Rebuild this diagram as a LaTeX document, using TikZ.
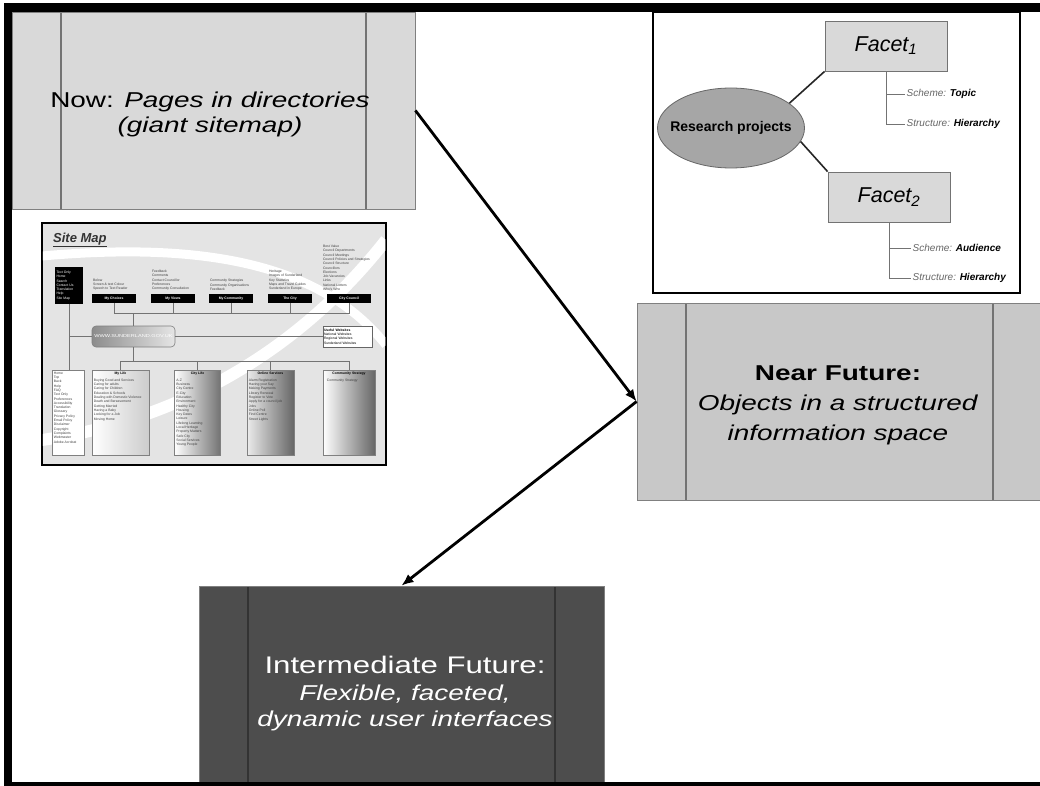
\documentclass[tikz,border=0pt]{standalone}
\usepackage{fontspec}
\setmainfont{Liberation Sans}
\newfontfamily\widesans[FakeStretch=1.3]{Liberation Sans}
\usepackage{xcolor}
\usepackage{tikz}
\usetikzlibrary{shapes.geometric}
\usetikzlibrary{arrows.meta}
\tikzset{>={Latex[length=12pt,width=10pt]}}
\definecolor{nowgray}{HTML}{D9D9D9}
\definecolor{neargray}{HTML}{C8C8C8}
\definecolor{intergray}{HTML}{4D4D4D}
\definecolor{mapback}{HTML}{E4E4E4}
\newcommand{\mapfont}{\fontsize{3.4}{4.3}\selectfont}

\begin{document}
\begin{tikzpicture}[x=1pt, y=-1pt]
\tikzset{stage/.style={rectangle, inner sep=0, draw=gray, line width=0.8, minimum width=405, minimum height=197,
    path picture={
      \draw[draw=#1, line width=1.2] ([xshift=49]path picture bounding box.north west) -- ([xshift=49]path picture bounding box.south west);
      \draw[draw=#1, line width=1.2] ([xshift=-49]path picture bounding box.north east) -- ([xshift=-49]path picture bounding box.south east);}},
  stagetext/.style={align=center, inner sep=0, font=\widesans\fontsize{21.5}{25}\selectfont},
  facet/.style={draw=gray!90!black, fill=nowgray, line width=0.8, minimum width=122, minimum height=50, inner sep=0, font=\fontsize{21.5}{24}\selectfont},
  flabel/.style={inner sep=1.5, font=\fontsize{10}{12}\selectfont},
  treeline/.style={draw=black!55, line width=0.8},
  navbar/.style={fill=black, text=white, font=\mapfont\bfseries, minimum width=44, minimum height=9, inner sep=0},
  maplist/.style={font=\mapfont, text=black!75, align=left, inner sep=0},
  maptitle/.style={font=\mapfont\bfseries, inner sep=0},
  mapline/.style={draw=black!55, line width=0.6},
  lowbox/.style={draw=black!50, line width=0.6, minimum height=85, inner sep=0}}
    \useasboundingbox (0,0) rectangle (1040,786);
    \fill[white] (0,0) rectangle (1040,786);

    % stage boxes
    \node[stage=gray!90!black, fill=nowgray, minimum width=403] (Now) at (213.5,110.5) {};
    \node[stage=gray!90!black, fill=neargray] (Near) at (839.5,401.5) {};
    \node[stage=black!80, fill=intergray, minimum height=200] (Inter) at (401.5,686) {};

    \node[stagetext] (NowT) at (210,114) {Now: \textit{Pages in directories}\\\textit{(giant sitemap)}};
    \node[stagetext, font=\widesans\fontsize{21.5}{30}\selectfont] (NearT) at (838,405) {\textbf{Near Future:}\\\textit{Objects in a structured}\\\textit{information space}};
    \node[stagetext, text=white, font=\widesans\fontsize{21.5}{26.5}\selectfont] (InterT) at (405,694) {{\fontsize{24}{26.5}\selectfont Intermediate Future:}\\\textit{Flexible, faceted,}\\\textit{dynamic user interfaces}};

    \draw[->, line width=2.8] (Now.east) -- (Near.west);
    \draw[->, line width=2.8] (Near.west) -- (Inter.north);

% % % % % % % % % % % % % % % % % % %
    % facet panel
    \node[draw, line width=2.6, minimum width=367, minimum height=281, inner sep=0] (Panel) at (836.5,152.5) {};
    \node[ellipse, fill=black!35, draw=black!60, line width=0.8, minimum width=147, minimum height=80, inner sep=0,
          label={[font=\bfseries\fontsize{14}{16}\selectfont]center:Research projects}] (RP) at (731,128) {};
    \node[facet] (F1) at (886,46) {\textit{Facet\textsubscript{1}}};
    \node[facet] (F2) at (889,197) {\textit{Facet\textsubscript{2}}};
    \draw[line width=1.6, black!85] (RP.23) -- (F1.south west);
    \draw[line width=1.6, black!85] (RP.-11) -- (F2.north west);

    \node[flabel, anchor=west] (S1) at (905,94) {\textcolor{black!60}{\textit{Scheme:}} \textbf{\textit{Topic}}};
    \node[flabel, anchor=west] (T1) at (905,124) {\textcolor{black!60}{\textit{Structure:}} \textbf{\textit{Hierarchy}}};
    \node[flabel, anchor=west] (S2) at (911,248) {\textcolor{black!60}{\textit{Scheme:}} \textbf{\textit{Audience}}};
    \node[flabel, anchor=west] (T2) at (911,278) {\textcolor{black!60}{\textit{Structure:}} \textbf{\textit{Hierarchy}}};
    \draw[treeline] (F1.south) |- (S1.west);
    \draw[treeline] (F1.south) |- (T1.west);
    \draw[treeline] (F2.south) |- (S2.west);
    \draw[treeline] (F2.south) |- (T2.west);

% % % % % % % % % % % % % % % % % % %
    % site map picture
    \node[draw, fill=mapback, line width=2.5, minimum width=344, minimum height=242, inner sep=0] (Map) at (214,344) {};
    \begin{scope}
      \clip ([shift={(2,2)}]Map.north west) rectangle ([shift={(-2,-2)}]Map.south east);
      \draw[white, line width=9] (42,256) .. controls (200,242) and (320,262) .. (386,345);
      \draw[white, line width=12] (42,440) .. controls (180,420) and (300,350) .. (386,240);
    \end{scope}
    \node[anchor=base west, inner sep=0, text=black!80, font=\bfseries\itshape\fontsize{13}{15}\selectfont] (MapT) at (53,242) {\underline{Site Map}};

    \node[fill=black, text=white, font=\mapfont, align=left, minimum width=28, minimum height=37, inner sep=1.5, text width=25] (Quick) at (69,285.5)
        {Text Only\\Home\\Search\\Contact Us\\Translation\\Help\\Site Map};

    \node[navbar] (Choices) at (114,298.5) {My Choices};
    \node[navbar] (Views) at (173,298.5) {My Views};
    \node[navbar] (Community) at (231,298.5) {My Community};
    \node[navbar] (City) at (290,298.5) {The City};
    \node[navbar] (Council) at (349,298.5) {City Council};

    \node[maplist, anchor=south west] (ChoicesL) at ([xshift=1,yshift=3]Choices.north west) {Below\\Screen \& text Colour\\Speech to Text Reader};
    \node[maplist, anchor=south west] (ViewsL) at ([xshift=1,yshift=3]Views.north west) {Feedback\\Comments\\Contact Councillor\\Preferences\\Community Consultation};
    \node[maplist, anchor=south west] (CommunityL) at ([xshift=1,yshift=3]Community.north west) {Community Strategies\\Community Organisations\\Feedback};
    \node[maplist, anchor=south west] (CityL) at ([xshift=1,yshift=3]City.north west) {Heritage\\Images of Sunderland\\Key Statistics\\Maps and Travel Guides\\Sunderland in Europe};
    \node[maplist, anchor=south west] (CouncilL) at ([xshift=-4,yshift=3]Council.north west) {Best Value\\Council Departments\\Council Meetings\\Council Policies and Strategies\\Council Structure\\Councillors\\Elections\\Job Vacancies\\Links\\National Letters\\Who's Who};

    \node[rounded corners=4, left color=black!45, right color=black!10, draw=black!50, line width=0.6, minimum width=83, minimum height=21, inner sep=0,
          text=white, font=\widesans\fontsize{4.3}{5}\selectfont] (WWW) at (133.5,336.5) {WWW.SUNDERLAND.GOV.UK};
    \node[draw=black!60, fill=white, line width=0.6, font=\mapfont, align=left, inner sep=1, minimum width=49, minimum height=21, text width=47] (Useful) at (347.5,336.5)
        {\textbf{Useful Websites}\\National Websites\\Regional Websites\\Sunderland Websites};

    \node[lowbox, fill=white, minimum width=32] (Foot) at (68,412.5) {};
    \node[lowbox, left color=white, right color=black!20, minimum width=57] (Life) at (120.5,412.5) {};
    \node[lowbox, left color=white, right color=black!55, minimum width=46] (CityLife) at (197.5,412.5) {};
    \node[lowbox, left color=black!8, right color=black!60, minimum width=47] (Online) at (270.5,412.5) {};
    \node[lowbox, left color=white, right color=black!60, minimum width=52] (Strategy) at (349,412.5) {};

    \node[maplist, anchor=north west] (FootL) at ([xshift=2,yshift=-2]Foot.north west) {Home\\Top\\Back\\Help\\FAQ\\Text Only\\Preferences\\Accessibility\\Translation\\Glossary\\Privacy Policy\\Email Policy\\Disclaimer\\Copyright\\Complaints\\Webmaster\\Adobe Acrobat};
    \node[maptitle, anchor=north] (LifeT) at ([yshift=-2]Life.north) {My Life};
    \node[maplist, anchor=north west] (LifeL) at ([xshift=2,yshift=-9]Life.north west) {Buying Good and Services\\Caring for adults\\Caring for Children\\Education \& Schools\\Dealing with Domestic Violence\\Death and Bereavement\\Getting Married\\Having a Baby\\Looking for a Job\\Moving Home};
    \node[maptitle, anchor=north] (CityLifeT) at ([yshift=-2]CityLife.north) {City Life};
    \node[maplist, anchor=north west] (CityLifeL) at ([xshift=2,yshift=-9]CityLife.north west) {A-Z\\Business\\City Centre\\E-City\\Education\\Environment\\Healthy City\\Housing\\Key Dates\\Leisure\\Lifelong Learning\\Local Heritage\\Property Matters\\Safe City\\Social Services\\Young People};
    \node[maptitle, anchor=north] (OnlineT) at ([yshift=-2]Online.north) {Online Services};
    \node[maplist, anchor=north west] (OnlineL) at ([xshift=2,yshift=-9]Online.north west) {Alarm Registration\\Having your Say\\Making Payments\\Library Renewal\\Register to Vote\\Apply for a council job\\Jobs\\Online Poll\\Find Centre\\Street Lights};
    \node[maptitle, anchor=north] (StrategyT) at ([yshift=-2]Strategy.north) {Community Strategy};
    \node[maplist, anchor=north west] (StrategyL) at ([xshift=4,yshift=-9]Strategy.north west) {Community Strategy};

    \coordinate (TopBus) at (0,313);
    \coordinate (LowBus) at (0,361);
    \draw[mapline] (Choices.south) -- (Choices.south |- TopBus) -- (Council.south |- TopBus) -- (Council.south);
    \foreach \b in {Views,Community,City}
      \draw[mapline] (\b.south) -- (\b.south |- TopBus);
    \draw[mapline] (WWW.north) -- (WWW.north |- TopBus);
    \draw[mapline] (Quick.south) -- (Quick.south |- Foot.north);
    \draw[mapline] (Quick.south |- WWW.west) -- (WWW.west);
    \draw[mapline] (WWW.east) -- (Useful.west);
    \draw[mapline] (WWW.south) -- (WWW.south |- LowBus);
    \draw[mapline] (Life.north) -- (Life.north |- LowBus) -- (Strategy.north |- LowBus) -- (Strategy.north);
    \foreach \b in {CityLife,Online}
      \draw[mapline] (\b.north) -- (\b.north |- LowBus);

% % % % % % % % % % % % % % % % % % %
    % outer frame
    \fill (3.5,3.5) rectangle (1040,12);
    \fill (3.5,3.5) rectangle (12,786);
    \fill (3.5,782) rectangle (1040,786);
\end{tikzpicture}
\end{document}
